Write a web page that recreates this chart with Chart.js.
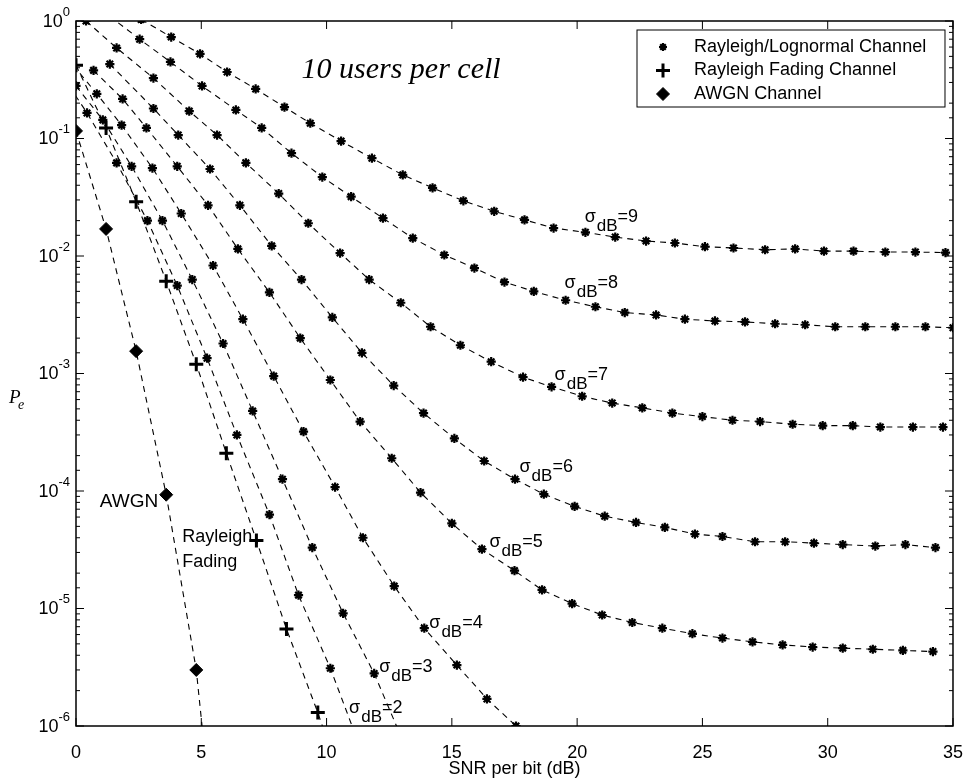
<!DOCTYPE html>
<html>
<head>
<meta charset="utf-8">
<script src="https://cdn.jsdelivr.net/npm/chart.js@4.4.0/dist/chart.umd.min.js"></script>
<style>
  html, body { margin: 0; padding: 0; background: #fff; }
</style>
</head>
<body>
<canvas id="myChart" width="971" height="782"></canvas>
<script>
// ---- data ----
var SNR_AWGN = [0, 1.2, 2.4, 3.6, 4.8, 6.0];
var PE_AWGN  = [0.116, 0.017, 1.55e-3, 9.3e-5, 3.0e-6, 1e-8];

var SNR_RAY = [0, 1.2, 2.4, 3.6, 4.8, 6.0, 7.2, 8.4, 9.65, 10.85];
var PE_RAY  = [0.42, 0.123, 0.029, 6.1e-3, 1.2e-3, 2.1e-4, 3.8e-5, 6.7e-6, 1.3e-6, 2.3e-7];

var SNR_S2 = [-0.76, 0.44, 1.62, 2.85, 4.04, 5.23, 6.42, 7.72, 8.88, 10.15, 11.35];
var PE_S2  = [0.4, 0.165, 0.062, 0.020, 5.6e-3, 1.35e-3, 3.0e-4, 6.3e-5, 1.3e-5, 3.1e-6, 6.5e-7];

var SNR_S3 = [0.0, 1.07, 2.22, 3.45, 4.64, 5.87, 7.05, 8.24, 9.43, 10.66, 11.9, 13.1];
var PE_S3  = [0.28, 0.144, 0.058, 0.020, 6.3e-3, 1.8e-3, 4.8e-4, 1.26e-4, 3.3e-5, 9.1e-6, 2.8e-6, 7e-7];

var SNR_S4 = [-0.4, 0.83, 1.82, 3.05, 4.2, 5.47, 6.66, 7.89, 9.08, 10.34, 11.45, 12.7, 13.9, 15.2, 16.4, 17.56];
var PE_S4  = [0.5, 0.24, 0.13, 0.056, 0.023, 8.3e-3, 2.9e-3, 9.5e-4, 3.2e-4, 1.08e-4, 4.0e-5, 1.55e-5, 6.8e-6, 3.3e-6, 1.7e-6, 1.0e-6];

var SNR_S5 = [0.7, 1.86, 2.81, 4.04, 5.27, 6.46, 7.72, 8.95, 10.15, 11.34, 12.6, 13.75, 15.0, 16.2, 17.5, 18.6, 19.8, 21.0,
              22.2, 23.4, 24.6, 25.8, 27.0, 28.2, 29.4, 30.6, 31.8, 33.0, 34.2];
var PE_S5  = [0.38, 0.217, 0.123, 0.058, 0.027, 0.0115, 4.9e-3, 2.0e-3, 8.8e-4, 3.9e-4, 1.9e-4, 9.7e-5, 5.3e-5, 3.2e-5, 2.1e-5, 1.44e-5, 1.1e-5, 8.8e-6,
              7.6e-6, 6.8e-6, 6.1e-6, 5.6e-6, 5.2e-6, 4.9e-6, 4.7e-6, 4.6e-6, 4.5e-6, 4.4e-6, 4.3e-6];

var SNR_S6 = [1.35, 3.09, 4.08, 5.35, 6.54, 7.81, 9.0, 10.23, 11.41, 12.68, 13.87, 15.1, 16.29, 17.52, 18.67, 19.9, 21.1,
              22.35, 23.5, 24.7, 25.8, 27.1, 28.3, 29.45, 30.6, 31.9, 33.1, 34.3];
var PE_S6  = [0.43, 0.18, 0.107, 0.055, 0.027, 0.0122, 6.3e-3, 3.0e-3, 1.5e-3, 7.9e-4, 4.6e-4, 2.8e-4, 1.8e-4, 1.26e-4, 9.4e-5, 7.4e-5, 6.1e-5,
              5.4e-5, 4.9e-5, 4.3e-5, 4.1e-5, 3.7e-5, 3.7e-5, 3.6e-5, 3.5e-5, 3.4e-5, 3.5e-5, 3.3e-5];

var SNR_S7 = [0.4, 1.62, 3.09, 4.52, 5.63, 6.78, 8.09, 9.27, 10.54, 11.7, 12.96, 14.15, 15.34, 16.57, 17.84, 18.98, 20.2, 21.4,
              22.6, 23.8, 25.0, 26.2, 27.3, 28.6, 29.8, 31.0, 32.1, 33.4, 34.6];
var PE_S7  = [1.0, 0.59, 0.327, 0.171, 0.107, 0.062, 0.034, 0.019, 0.0106, 6.3e-3, 4.0e-3, 2.5e-3, 1.74e-3, 1.26e-3, 9.3e-4, 7.7e-4, 6.4e-4, 5.6e-4,
              5.1e-4, 4.6e-4, 4.3e-4, 4.0e-4, 3.9e-4, 3.7e-4, 3.6e-4, 3.6e-4, 3.5e-4, 3.5e-4, 3.5e-4];

var SNR_S8 = [1.34, 2.54, 3.77, 5.03, 6.38, 7.41, 8.6, 9.83, 10.98, 12.25, 13.44, 14.7, 15.9, 17.1, 18.27, 19.54, 20.73, 21.9,
              23.15, 24.3, 25.5, 26.7, 27.9, 29.1, 30.3, 31.5, 32.7, 33.9, 35.0];
var PE_S8  = [1.1, 0.70, 0.448, 0.28, 0.175, 0.123, 0.075, 0.047, 0.032, 0.021, 0.0142, 0.0102, 7.9e-3, 6.0e-3, 5.0e-3, 4.2e-3, 3.7e-3, 3.3e-3,
              3.15e-3, 2.9e-3, 2.8e-3, 2.75e-3, 2.65e-3, 2.6e-3, 2.5e-3, 2.5e-3, 2.5e-3, 2.5e-3, 2.45e-3];

var SNR_S9 = [2.6, 3.80, 4.95, 6.03, 7.17, 8.32, 9.35, 10.58, 11.81, 13.04, 14.23, 15.46, 16.69, 17.9, 19.06, 20.33, 21.52,
              22.75, 23.9, 25.1, 26.24, 27.5, 28.7, 29.85, 31.03, 32.3, 33.5, 34.7];
var PE_S9  = [1.03, 0.73, 0.525, 0.368, 0.264, 0.185, 0.135, 0.095, 0.068, 0.049, 0.038, 0.0295, 0.024, 0.0203, 0.0173, 0.0159, 0.0145,
              0.0134, 0.0129, 0.012, 0.0117, 0.0113, 0.0115, 0.011, 0.011, 0.0108, 0.0108, 0.0107];

var SIGMAS = [2, 3, 4, 5, 6, 7, 8, 9];
var LOGNORMAL = [[SNR_S2, PE_S2], [SNR_S3, PE_S3], [SNR_S4, PE_S4], [SNR_S5, PE_S5],
                 [SNR_S6, PE_S6], [SNR_S7, PE_S7], [SNR_S8, PE_S8], [SNR_S9, PE_S9]];

var X_TICKS = [0, 5, 10, 15, 20, 25, 30, 35];
var Y_DECADES = [0, -1, -2, -3, -4, -5, -6];

// where the curve labels sit (data coordinates, left/baseline)
var SIGMA_LABEL_AT = [[10.9, -5.89], [12.1, -5.54], [14.1, -5.17], [16.5, -4.48],
                      [17.7, -3.84], [19.1, -3.055], [19.5, -2.27], [20.3, -1.71]];

var FONT = '"Liberation Sans", Arial, sans-serif';

function pts(xs, ys) {
    return xs.map(function (x, i) { return { x: x, y: ys[i] }; });
}

var ctx = document.getElementById('myChart').getContext('2d');

var datasets = [];
LOGNORMAL.forEach(function (s, i) {
    datasets.push({
        label: 'Rayleigh/Lognormal Channel',
        data: pts(s[0], s[1]),
        showLine: true,
        borderColor: '#000',
        backgroundColor: '#000',
        borderWidth: 1.1,
        borderDash: [6, 5],
        pointStyle: 'star',
        pointRadius: 4.6,
        pointBorderWidth: 2.2,
        pointBorderColor: '#000'
    });
});
datasets.push({
    label: 'Rayleigh Fading Channel',
    data: pts(SNR_RAY, PE_RAY),
    showLine: true,
    borderColor: '#000',
    backgroundColor: '#000',
    borderWidth: 1.1,
    borderDash: [6, 5],
    pointStyle: 'cross',
    pointRadius: 7,
    pointBorderWidth: 3,
    pointBorderColor: '#000'
});
datasets.push({
    label: 'AWGN Channel',
    data: pts(SNR_AWGN, PE_AWGN),
    showLine: true,
    borderColor: '#000',
    backgroundColor: '#000',
    borderWidth: 1.1,
    borderDash: [6, 5],
    pointStyle: 'rectRot',
    pointRadius: 6.5,
    pointBorderWidth: 1,
    pointBackgroundColor: '#000',
    pointBorderColor: '#000'
});

function sigmaLabel(c, x, y, n) {
    c.textAlign = 'left';
    c.textBaseline = 'alphabetic';
    c.font = '18px ' + FONT;
    c.fillText('\u03c3', x, y);
    var w = c.measureText('\u03c3').width + 1;
    c.font = '17px ' + FONT;
    c.fillText('dB', x + w, y + 9);
    w += c.measureText('dB').width;
    c.font = '18px ' + FONT;
    c.fillText('=' + n, x + w, y);
}

// frame, inward ticks, tick labels and text notes
var decor = {
    id: 'decor',
    afterDraw: function (chart) {
        var c = chart.ctx, ca = chart.chartArea;
        var xs = chart.scales.x, ys = chart.scales.y;
        c.save();
        c.strokeStyle = '#000';
        c.fillStyle = '#000';
        c.setLineDash([]);

        c.lineWidth = 1.5;
        c.strokeRect(ca.left, ca.top, ca.right - ca.left, ca.bottom - ca.top);

        c.lineWidth = 1;
        c.beginPath();
        ys.ticks.forEach(function (t) {
            var p = ys.getPixelForValue(t.value);
            if (p < ca.top - 0.5 || p > ca.bottom + 0.5) return;
            var lg = Math.log10(t.value);
            var len = Math.abs(lg - Math.round(lg)) < 1e-6 ? 8 : 4;
            c.moveTo(ca.left, p); c.lineTo(ca.left + len, p);
            c.moveTo(ca.right, p); c.lineTo(ca.right - len, p);
        });
        X_TICKS.forEach(function (v) {
            var p = xs.getPixelForValue(v);
            c.moveTo(p, ca.bottom); c.lineTo(p, ca.bottom - 8);
            c.moveTo(p, ca.top); c.lineTo(p, ca.top + 8);
        });
        c.stroke();

        // y tick labels 10^k
        Y_DECADES.forEach(function (k) {
            var p = ys.getPixelForValue(Math.pow(10, k));
            var ex = String(k);
            c.font = '13px ' + FONT;
            var ew = c.measureText(ex).width;
            var exX = ca.left - 6 - ew;
            c.textAlign = 'left';
            c.textBaseline = 'middle';
            c.fillText(ex, exX, p - 9);
            c.font = '18px ' + FONT;
            c.textAlign = 'right';
            c.fillText('10', exX, p + 1);
        });

        // y axis title
        c.textAlign = 'left';
        c.textBaseline = 'alphabetic';
        c.font = 'italic 19px "Liberation Serif", "Times New Roman", serif';
        c.fillText('P', 9, 403);
        c.font = 'italic 14px "Liberation Serif", "Times New Roman", serif';
        c.fillText('e', 18, 409);

        // title note
        c.font = 'italic 30px "Liberation Serif", "Times New Roman", serif';
        c.fillText('10 users per cell', xs.getPixelForValue(9.0), ys.getPixelForValue(Math.pow(10, -0.485)));

        // sigma labels
        SIGMAS.forEach(function (s, i) {
            var a = SIGMA_LABEL_AT[i];
            sigmaLabel(c, xs.getPixelForValue(a[0]), ys.getPixelForValue(Math.pow(10, a[1])), s);
        });

        c.font = '19px ' + FONT;
        c.fillText('AWGN', xs.getPixelForValue(0.95), ys.getPixelForValue(Math.pow(10, -4.136)));
        c.font = '18px ' + FONT;
        c.fillText('Rayleigh', xs.getPixelForValue(4.24), ys.getPixelForValue(Math.pow(10, -4.43)));
        c.fillText('Fading', xs.getPixelForValue(4.24), ys.getPixelForValue(Math.pow(10, -4.65)));

        // legend box
        var bx1 = ca.left + 561, bx2 = ca.right - 8, by1 = ca.top + 9, by2 = ca.top + 86;
        c.fillStyle = '#fff';
        c.fillRect(bx1, by1, bx2 - bx1, by2 - by1);
        c.lineWidth = 1;
        c.strokeRect(bx1, by1, bx2 - bx1, by2 - by1);
        c.fillStyle = '#000';
        var items = [
            { text: 'Rayleigh/Lognormal Channel', style: 'star', r: 4, bw: 2.2 },
            { text: 'Rayleigh Fading Channel', style: 'cross', r: 7, bw: 3 },
            { text: 'AWGN Channel', style: 'rectRot', r: 6.5, bw: 1 }
        ];
        items.forEach(function (it, i) {
            var yy = by1 + 17 + i * 23.5;
            c.lineWidth = it.bw;
            Chart.helpers.drawPoint(c, { pointStyle: it.style, radius: it.r, borderWidth: it.bw, rotation: 0 }, bx1 + 26, yy);
            c.font = '18px ' + FONT;
            c.textAlign = 'left';
            c.textBaseline = 'middle';
            c.fillText(it.text, bx1 + 57, yy);
        });
        c.restore();
    }
};

var chart = new Chart(ctx, {
    type: 'scatter',
    data: { datasets: datasets },
    options: {
        responsive: false,
        animation: false,
        devicePixelRatio: 1,
        layout: { padding: { top: 21, right: 12, left: 0, bottom: 0 } },
        plugins: {
            legend: { display: false },
            tooltip: { enabled: false }
        },
        scales: {
            x: {
                type: 'linear',
                min: 0,
                max: 35,
                grid: { display: false },
                border: { display: false },
                ticks: {
                    stepSize: 5,
                    color: '#000',
                    padding: 8,
                    font: { family: 'Liberation Sans', size: 18 }
                },
                title: {
                    display: true,
                    text: 'SNR per bit (dB)',
                    color: '#000',
                    font: { family: 'Liberation Sans', size: 18 },
                    padding: { top: 0, bottom: 2 }
                },
                afterFit: function (s) { s.height = 56; }
            },
            y: {
                type: 'logarithmic',
                min: 1e-6,
                max: 1,
                grid: { display: false },
                border: { display: false },
                ticks: { display: false },
                afterFit: function (s) { s.width = 76; }
            }
        }
    },
    plugins: [decor]
});
</script>
</body>
</html>
